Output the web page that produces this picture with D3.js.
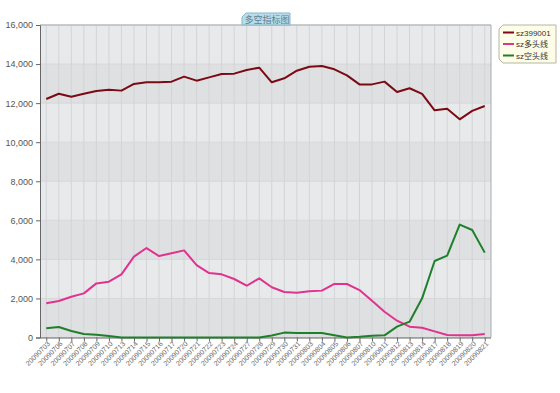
<!DOCTYPE html>
<html><head><meta charset="utf-8">
<script src="https://cdn.jsdelivr.net/npm/d3@7/dist/d3.min.js"></script>
<style>body{margin:0;background:#fff;}svg{display:block;font-family:"Liberation Sans",Arial,sans-serif;}</style>
</head><body><svg id="c" width="560" height="393"></svg>
<script>
const categories = ["20090703","20090706","20090707","20090708","20090709","20090710","20090713","20090714","20090715","20090716","20090717","20090720","20090721","20090722","20090723","20090724","20090727","20090728","20090729","20090730","20090731","20090803","20090804","20090805","20090806","20090807","20090810","20090811","20090812","20090813","20090814","20090817","20090818","20090819","20090820","20090821"];
const sz399001 = [12210,12480,12330,12480,12620,12690,12640,12980,13065,13065,13100,13355,13150,13320,13490,13510,13700,13815,13065,13270,13660,13865,13900,13730,13420,12960,12960,13100,12570,12760,12470,11630,11715,11170,11600,11850];
const duoLine = [1750,1870,2090,2260,2770,2860,3230,4140,4580,4170,4310,4460,3710,3300,3235,2995,2650,3030,2570,2330,2295,2365,2400,2740,2740,2430,1885,1320,860,555,500,315,130,110,110,180];
const kongLine = [470,540,330,180,145,80,0,0,0,0,0,0,0,0,0,0,0,0,100,250,230,230,230,110,0,40,95,110,555,810,2005,3915,4190,5780,5505,4345];
const yTicks = [0,2000,4000,6000,8000,10000,12000,14000,16000];
const seriesNames = ["sz399001","sz多头线","sz空头线"];
const seriesColors = ["#7a0a14","#e0338f","#1f7f2a"];
const title = "多空指标图";

const svg = d3.select("#c");
const L = 40, R = 491, T = 25, B = 337.5;
const x = d3.scalePoint().domain(categories).range([L, R]).padding(0.5);
const y = d3.scaleLinear().domain([0, 16000]).range([B, T]);

// bands
const g = svg.append("g");
for (let i = 0; i < yTicks.length - 1; i++) {
  g.append("rect").attr("x", L).attr("width", R - L)
    .attr("y", y(yTicks[i + 1])).attr("height", y(yTicks[i]) - y(yTicks[i + 1]))
    .attr("fill", i % 2 === 0 ? "#dfe0e2" : "#e8e9eb");
}
// horizontal grid
g.selectAll("line.h").data(yTicks).join("line")
  .attr("x1", L).attr("x2", R).attr("y1", d => y(d)).attr("y2", d => y(d))
  .attr("stroke", "#d6d7d9").attr("stroke-width", 1);
// vertical grid
g.selectAll("line.v").data(categories).join("line")
  .attr("x1", d => x(d)).attr("x2", d => x(d)).attr("y1", T).attr("y2", B)
  .attr("stroke", "#d2d4d7").attr("stroke-width", 1);
// border top/right
svg.append("path").attr("d", `M${L},${T}H${R}V${B}`).attr("fill", "none").attr("stroke", "#a9abae");

// y axis
const ya = svg.append("g").attr("transform", `translate(${L},0)`)
  .call(d3.axisLeft(y).tickValues(yTicks).tickFormat(d3.format(",")).tickSize(4));
ya.select(".domain").attr("stroke", "#666");
ya.selectAll(".tick line").attr("stroke", "#666");
ya.selectAll("text").attr("fill", "#555").attr("font-size", 9);

// x axis
const xa = svg.append("g").attr("transform", `translate(0,${B})`)
  .call(d3.axisBottom(x).tickSize(4).tickSizeOuter(0));
xa.select(".domain").attr("stroke", "#666").attr("d", `M${L},0.5H${R}`);
xa.selectAll(".tick line").attr("stroke", "#666");
xa.selectAll("text").attr("fill", "#666").attr("font-size", 7)
  .attr("text-anchor", "end").attr("dy", "0.35em")
  .attr("transform", "translate(2,5) rotate(-45)").attr("y", 0).attr("x", 0);

// lines
const data = [sz399001, duoLine, kongLine];
const line = d3.line().x((d, i) => x(categories[i])).y(d => y(d));
data.forEach((s, k) => {
  svg.append("path").datum(s).attr("d", line).attr("fill", "none")
    .attr("stroke", seriesColors[k]).attr("stroke-width", 2).attr("stroke-linejoin", "round");
});

// title box
const tx = 242, ty = 13, tw = 48, th = 12;
svg.append("path").attr("d", `M${tx + 4},${ty}H${tx + tw}V${ty + th}H${tx}V${ty + 4}Z`)
  .attr("fill", "#b9dde8").attr("stroke", "#86b7c8");
svg.append("text").attr("x", tx + tw / 2 + 1).attr("y", ty + 9.5).attr("text-anchor", "middle")
  .attr("font-size", 9).attr("fill", "#5d7f90").attr("font-family", "Noto Sans CJK SC").text(title);

// legend
const lx = 499, ly = 25, lw = 57, lh = 38;
svg.append("path").attr("d", `M${lx + 4},${ly}H${lx + lw}V${ly + lh}H${lx + 4}L${lx},${ly + lh - 4}V${ly + 4}Z`)
  .attr("fill", "#fdfde8").attr("stroke", "#b5b5a8");
seriesNames.forEach((n, k) => {
  const yy = ly + 7.5 + k * 11.5;
  svg.append("line").attr("x1", lx + 4).attr("x2", lx + 15).attr("y1", yy).attr("y2", yy)
    .attr("stroke", seriesColors[k]).attr("stroke-width", 2);
  svg.append("text").attr("x", lx + 17).attr("y", yy + 3).attr("font-size", 8).attr("fill", "#333")
    .attr("font-family", "Liberation Sans, Noto Sans CJK SC").text(n);
});
</script></body></html>
